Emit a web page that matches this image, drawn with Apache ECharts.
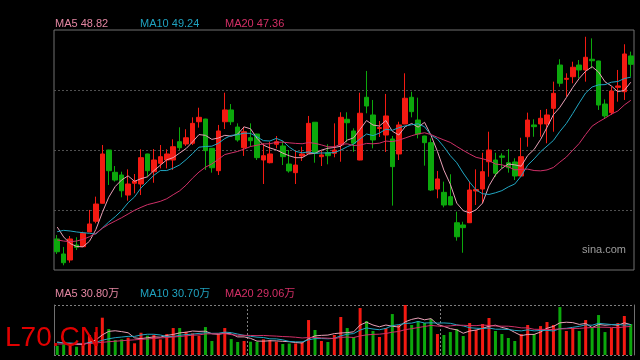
<!DOCTYPE html>
<html><head><meta charset="utf-8">
<script src="https://cdn.jsdelivr.net/npm/echarts@6/dist/echarts.min.js"></script>
<style>html,body{margin:0;padding:0;background:#000;}#c{width:640px;height:360px;}</style>
</head><body><div id="c"></div>
<script>
const opens = [36.08,34.86,34.37,35.59,35.45,36.65,37.52,38.98,43.31,41.50,
41.28,39.65,40.61,40.55,42.99,41.55,42.23,42.50,42.50,43.99,
43.80,43.86,45.61,45.83,43.45,41.63,45.61,46.57,45.18,43.50,
44.31,44.61,42.50,42.28,43.78,43.64,42.17,41.47,42.83,43.04,
45.57,42.77,43.09,43.04,43.72,45.81,44.86,42.50,47.60,46.16,
45.06,44.53,44.21,42.99,45.43,47.60,45.75,44.45,43.91,40.14,
39.87,39.52,37.40,37.22,37.40,39.98,40.14,42.36,42.50,42.83,
42.28,42.34,41.20,44.39,45.35,45.43,45.43,46.70,50.22,49.06,
49.27,50.22,49.82,50.69,50.55,47.05,46.35,48.41,48.05,50.96];
const closes = [35.04,34.15,36.08,35.40,36.54,37.30,38.92,42.99,41.63,40.87,
40.00,40.55,40.79,42.69,41.63,42.50,42.77,42.99,43.58,43.50,
44.31,45.48,45.97,43.26,41.87,44.86,46.57,45.61,44.13,44.80,
44.07,42.69,42.85,42.99,43.99,42.77,41.61,42.09,42.99,45.48,
43.04,42.91,42.85,43.31,45.97,45.53,43.86,46.30,46.89,44.13,
45.14,46.08,41.96,45.35,47.52,46.43,44.61,43.91,40.06,40.96,
38.84,38.84,36.26,37.00,40.06,40.10,41.55,43.31,41.42,42.72,
41.87,41.20,42.77,45.75,45.21,45.89,46.16,47.92,48.74,49.14,
50.04,49.82,50.85,50.57,46.97,46.08,48.11,48.52,51.12,50.28];
const lows = [34.86,33.94,34.15,35.18,35.43,36.63,37.35,38.96,40.47,40.74,
39.47,39.19,39.79,39.65,41.14,40.65,41.82,41.82,41.69,43.31,
43.64,43.72,45.13,41.69,41.47,41.28,45.02,45.35,43.99,42.83,
43.58,42.50,40.55,42.23,43.45,42.09,41.47,40.55,42.42,43.02,
42.28,42.01,42.15,42.72,42.36,43.94,43.17,42.48,46.30,43.45,
44.37,43.15,38.79,42.50,45.41,45.97,44.26,42.04,39.98,39.39,
38.65,38.82,35.94,34.96,37.38,38.84,38.98,41.14,41.14,41.82,
41.47,40.87,41.18,43.58,44.39,44.39,43.86,44.80,48.46,47.65,
48.74,49.14,48.87,49.95,46.57,45.89,46.16,47.24,47.38,49.27];
const highs = [36.40,35.43,36.32,36.22,36.67,38.44,39.52,43.72,43.33,42.01,
41.55,41.74,41.36,43.37,43.01,43.39,43.72,43.37,44.18,45.16,
45.00,45.97,46.75,45.85,43.47,45.35,47.97,47.05,45.48,45.21,
45.48,44.63,43.86,43.99,44.45,44.04,43.31,43.31,43.58,46.08,
45.59,43.26,43.78,45.48,46.38,46.38,45.08,47.97,49.74,47.38,
45.67,47.87,44.45,45.61,49.55,48.05,47.57,44.47,44.26,41.61,
40.74,41.34,38.30,37.48,40.74,41.74,43.09,44.80,43.09,43.04,
43.39,42.64,44.31,46.35,45.81,46.57,46.65,48.87,50.69,49.55,
50.49,50.63,52.52,52.39,50.57,47.43,48.46,49.82,51.91,51.31];
// volume in 万
const volumes = [9.4,10.7,12.2,8.4,12.2,20.3,23.3,37.9,26.4,15.2,
15.9,17.6,11.9,22.6,19.6,20.3,15.9,21.3,27.4,27.4,
23.6,22.0,19.6,28.4,14.2,21.0,27.4,16.2,13.2,14.2,
13.5,13.5,15.9,15.2,13.5,11.2,11.7,11.7,12.9,35.5,
25.4,14.2,13.2,20.3,38.6,27.4,18.3,47.7,34.5,24.4,
18.3,27.4,41.6,30.5,50.8,30.5,34.5,32.5,36.5,21.3,
20.3,23.3,26.4,19.3,32.5,25.4,31.5,37.6,24.4,21.3,
17.3,14.2,21.3,30.5,21.3,29.4,33.5,30.5,48.7,24.4,
27.4,24.4,35.5,27.4,40.6,23.3,27.4,32.5,39.6,31.5];
// moving-average values before a full window exists
const ma5Head = [37.05,36.24,35.71,35.47];
const ma10Head = [36.67,36.78,36.73,36.65,36.59,36.54,36.48,36.97,37.46];
const ma20Head = [36.00,35.91,35.86,35.91,36.05,36.26,36.54,36.95,37.27,37.54,37.81,38.11,38.41,38.65,38.87,39.00,39.14,39.35,39.68];
const volMa5Head = [13.2,12.2,11.2,10.7];
const volMa10Head = [12.7,12.2,12.2,11.7,11.7,12.2,13.0,15.0,16.5];
const volMa20Head = [11.2,11.2,11.2,11.2,11.4,11.7,12.2,12.9,13.5,14.0,14.5,15.0,15.4,15.9,16.3,16.8,17.3,17.8,18.3];
const monthStarts = [30, 60];
const priceLegend = ['MA5 48.82', 'MA10 49.24', 'MA20 47.36'];
const volLegend = ['MA5 30.80万', 'MA10 30.70万', 'MA20 29.06万'];
const categories = closes.map((_, i) => String(i + 1));

function movingAvg(vals, n, head) {
  return vals.map((v, i) => {
    if (i < n - 1) return head[i];
    let s = 0;
    for (let k = i - n + 1; k <= i; k++) s += vals[k];
    return +(s / n).toFixed(3);
  });
}

const RED = '#f41a12', GREEN = '#0ca80c';
const C5 = '#e9a0b6', C10 = '#21a6c2', C20 = '#d03068';
const T5 = '#e486a2', T10 = '#1fa2bf', T20 = '#d42f66';
const FONT = '"Liberation Sans", Arial, "Noto Sans CJK SC", sans-serif';
const dotted = (c) => ({ color: c, width: 1, type: [2, 2] });

const candleData = opens.map((o, i) => [o, closes[i], lows[i], highs[i]]);
const hidden = { axisLine: { show: false }, axisTick: { show: false }, axisLabel: { show: false }, splitLine: { show: false } };

const chart = echarts.init(document.getElementById('c'), null, { renderer: 'canvas' });

function legendTexts(labels, colors, top) {
  const xs = [55, 140, 225];
  return labels.map((t, k) => ({
    type: 'text', x: xs[k], y: top, z: 10,
    style: { text: t, fill: colors[k], font: '11px ' + FONT, verticalAlign: 'top' }
  }));
}

chart.setOption({
  backgroundColor: '#000',
  animation: false,
  grid: [
    { left: 54, top: 30, width: 580, height: 240, show: true, borderColor: '#707070', borderWidth: 1, backgroundColor: 'transparent' },
    { left: 54, top: 305, width: 580, height: 50 }
  ],
  xAxis: [
    Object.assign({ type: 'category', gridIndex: 0, data: categories, boundaryGap: true }, hidden),
    Object.assign({ type: 'category', gridIndex: 1, data: categories, boundaryGap: true }, hidden,
      { splitLine: { show: true, interval: (idx) => monthStarts.includes(idx), lineStyle: dotted('#808080') } })
  ],
  yAxis: [
    Object.assign({ type: 'value', gridIndex: 0, min: 33.557, max: 53.069 }, hidden),
    Object.assign({ type: 'value', gridIndex: 0, min: 0, max: 4, interval: 1 }, hidden,
      { splitLine: { show: true, showMinLine: false, showMaxLine: false, lineStyle: dotted('#515151') } }),
    Object.assign({ type: 'value', gridIndex: 1, min: 0, max: 50.8, position: 'left' }, hidden,
      { axisLine: { show: true, lineStyle: { color: '#707070', width: 1 } } }),
    Object.assign({ type: 'value', gridIndex: 1, min: 0, max: 1, interval: 1, position: 'right' }, hidden,
      { axisLine: { show: true, lineStyle: { color: '#707070', width: 1 } },
        splitLine: { show: true, lineStyle: dotted('#808080') } })
  ],
  series: [
    { type: 'candlestick', xAxisIndex: 0, yAxisIndex: 0, data: candleData, barWidth: 5,
      itemStyle: { color: RED, color0: GREEN, borderColor: RED, borderColor0: GREEN, borderWidth: 1 } },
    { type: 'line', xAxisIndex: 0, yAxisIndex: 0, data: movingAvg(closes, 5, ma5Head), symbol: 'none', lineStyle: { width: 1, color: C5 } },
    { type: 'line', xAxisIndex: 0, yAxisIndex: 0, data: movingAvg(closes, 10, ma10Head), symbol: 'none', lineStyle: { width: 1, color: C10 } },
    { type: 'line', xAxisIndex: 0, yAxisIndex: 0, data: movingAvg(closes, 20, ma20Head), symbol: 'none', lineStyle: { width: 1, color: C20 } },
    { type: 'bar', xAxisIndex: 1, yAxisIndex: 2, barWidth: 3,
      data: volumes.map((v, i) => ({ value: v, itemStyle: { color: closes[i] >= opens[i] ? RED : GREEN } })) },
    { type: 'line', xAxisIndex: 1, yAxisIndex: 2, data: movingAvg(volumes, 5, volMa5Head), symbol: 'none', lineStyle: { width: 1, color: C5 } },
    { type: 'line', xAxisIndex: 1, yAxisIndex: 2, data: movingAvg(volumes, 10, volMa10Head), symbol: 'none', lineStyle: { width: 1, color: C10 } },
    { type: 'line', xAxisIndex: 1, yAxisIndex: 2, data: movingAvg(volumes, 20, volMa20Head), symbol: 'none', lineStyle: { width: 1, color: C20 } }
  ],
  graphic: [].concat(
    legendTexts(priceLegend, [T5, T10, T20], 18),
    legendTexts(volLegend, [T5, T10, T20], 288),
    [
      { type: 'text', x: 582, y: 244, z: 10, style: { text: 'sina.com', fill: '#9c9c9c', font: '11px ' + FONT, verticalAlign: 'top' } },
      { type: 'text', x: 5, y: 324, z: 20, style: { text: 'L70.CN', fill: '#e10000', font: '28px ' + FONT, verticalAlign: 'top' } }
    ]
  )
});
</script>
</body></html>
